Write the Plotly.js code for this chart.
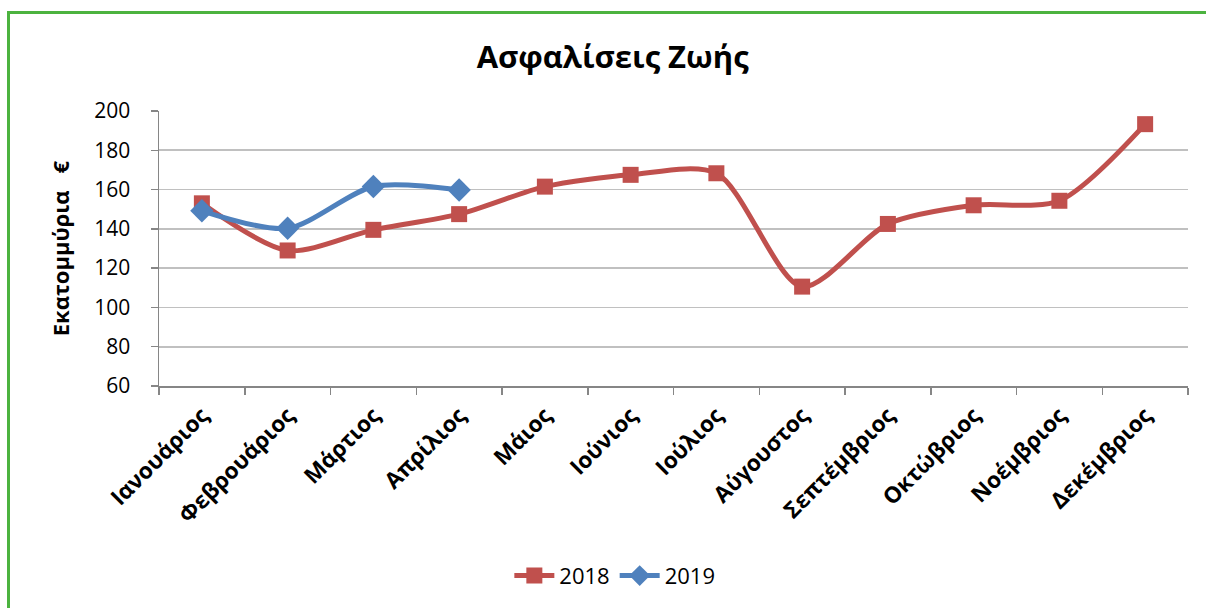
<!DOCTYPE html>
<html>
<head>
<meta charset="utf-8">
<script src="https://cdn.plot.ly/plotly-3.0.1.min.js"></script>
<style>
html,body{margin:0;padding:0;background:#fff;}
#wrap{position:relative;width:1206px;height:608px;overflow:hidden;}
#chart{position:absolute;left:0;top:0;width:1206px;height:608px;}
#frame{position:absolute;left:7px;top:11px;width:1210px;height:610px;border-left:3px solid #4CB33F;border-top:3px solid #4CB33F;pointer-events:none;}
</style>
</head>
<body>
<div id="wrap"><div id="chart"></div><div id="frame"></div></div>
<script>
const months = ["Ιανουάριος","Φεβρουάριος","Μάρτιος","Απρίλιος","Μάιος","Ιούνιος","Ιούλιος","Αύγουστος","Σεπτέμβριος","Οκτώβριος","Νοέμβριος","Δεκέμβριος"];
const values2018 = [153, 129, 139.5, 147.5, 161.5, 167.5, 168.3, 110.6, 142.5, 152, 154.3, 193.3];
const values2019 = [149.2, 140.3, 161.6, 159.8];
const yTicks = [60, 80, 100, 120, 140, 160, 180, 200];

const font = "Open Sans, Noto Sans, sans-serif";

const traces = [
  {
    x: months, y: values2018, name: "2018", type: "scatter", mode: "lines+markers",
    line: {color: "#C0504D", width: 5, shape: "spline", smoothing: 0.8},
    marker: {symbol: "square", size: 16, color: "#C0504D"}
  },
  {
    x: months.slice(0, values2019.length), y: values2019, name: "2019", type: "scatter", mode: "lines+markers",
    line: {color: "#4F81BD", width: 5, shape: "spline", smoothing: 0.8},
    marker: {symbol: "diamond", size: 18, color: "#4F81BD"}
  }
];

const layout = {
  width: 1206, height: 608,
  paper_bgcolor: "rgba(0,0,0,0)", plot_bgcolor: "#fff",
  margin: {l: 159, r: 18, t: 111, b: 222},
  showlegend: true,
  title: {text: "<b>Ασφαλίσεις Ζωής</b>", x: 0.508, xref: "container", xanchor: "center", y: 0.906, yref: "container", yanchor: "middle",
          font: {family: font, size: 31, color: "#000"}},
  xaxis: {
    type: "category", categoryorder: "array", categoryarray: months,
    range: [-0.5, 11.5], tickangle: -45, tickson: "boundaries",
    ticks: "outside", ticklen: 7, tickcolor: "#868686", tickwidth: 1.5,
    ticklabelstandoff: 6,
    showline: true, linecolor: "#868686", linewidth: 1.5,
    showgrid: false, zeroline: false,
    tickfont: {family: font, size: 22.5, color: "#000", weight: "bold"}
  },
  yaxis: {
    range: [60, 200], tickvals: yTicks, ticktext: yTicks.map(String),
    ticks: "outside", ticklen: 7, tickcolor: "#868686", tickwidth: 1.5,
    ticklabelstandoff: 16,
    showline: true, linecolor: "#868686", linewidth: 1.5,
    showgrid: true, gridcolor: "#C0C0C0", gridwidth: 1.6, zeroline: false,
    tickfont: {family: font, size: 21, color: "#000"},
    title: {text: "<b>Εκατομμύρια\u00A0\u00A0\u00A0€</b>", standoff: 18, font: {family: font, size: 22, color: "#000"}}
  },
  legend: {orientation: "h", x: 0.443, xanchor: "center", y: -0.69, yanchor: "middle",
           font: {family: font, size: 22, color: "#000"}, itemwidth: 40, tracegroupgap: 0}
};

Plotly.newPlot("chart", traces, layout, {displayModeBar: false, staticPlot: true});
</script>
</body>
</html>
